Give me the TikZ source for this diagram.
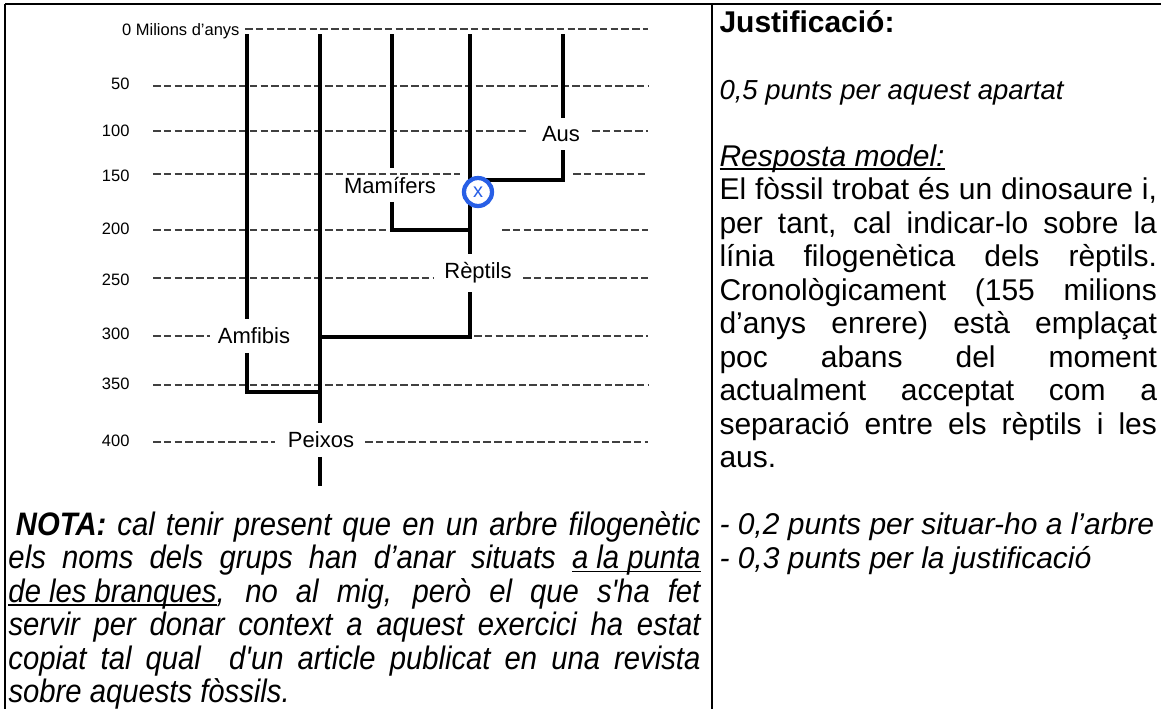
\documentclass[tikz,border=0pt]{standalone}
\usepackage{fontspec}
\setmainfont{Liberation Sans}[Ligatures=TeXOff]
\newfontfamily\narrowfont{Liberation Sans}[FakeStretch=0.9,Ligatures=TeXOff]
\usepackage{xcolor}
\definecolor{fossilblue}{RGB}{40,95,230}
\newcommand\ulsimple[1]{\setbox0\hbox{#1}\rlap{\rule[-1.5pt]{\wd0}{0.6pt}}\box0}
\tikzset{
	frame/.style={line width=0.9pt},
	branch/.style={line width=1.7pt},
	timeline/.style={draw=black!75, line width=0.65pt, dash pattern=on 3pt off 1.3pt},
	group/.style={font=\fontsize{8.8}{10}\selectfont, inner xsep=1pt, inner ysep=3.3pt},
	agelabel/.style={font=\fontsize{6.6}{8}\selectfont, anchor=east, inner sep=0pt},
	fossil/.style={circle, draw=fossilblue, line width=1.7pt, fill=white, text=fossilblue,
			inner sep=0pt, minimum size=11.2pt, font=\fontsize{8}{8}\selectfont},
	textblock/.style={anchor=base west, align=justify, inner sep=0pt}
}

\begin{document}
\begin{tikzpicture}[x=0.4pt,y=-0.4pt]
        \useasboundingbox (0,0) rectangle (1161,709);
        \coordinate (top_left) at (5,4);
        \coordinate (top_right) at (1161,4);
        \coordinate (bottom_left) at (5,709);
        \coordinate (top_mid) at (712,4);
        \coordinate (bottom_mid) at (712,709);
        \draw[frame] (top_left) -- (top_right);
        \draw[frame] (top_left) -- (bottom_left);
        \draw[frame] (top_mid) -- (bottom_mid);
        \foreach \y/\xa/\xb in {29/245/648, 86/153/648, 131/153/527, 131/592/648,
                174/153/460, 174/573/648, 230/153/392, 230/502/648, 278/153/433,
                278/523/648, 336/153/210, 336/474/648, 385/153/648, 442/153/275,
                442/365/648}
            \draw[timeline] (\xa,\y) -- (\xb,\y);
        \node[agelabel] (age_0) at (240,31) {0 Milions d’anys};
        \foreach \age/\y in {50/84, 100/131, 150/176, 200/229, 250/280, 300/334, 350/384, 400/441}
            \node[agelabel] (age_\age) at (130,\y) {\age};
        \node[group] (amfibis) at (254,336) {Amfibis};
        \node[group] (peixos) at (321,440) {Peixos};
        \node[group] (reptils) at (478,273) {Rèptils};
        \node[group] (mamifers) at (390,185) {Mamífers};
        \node[group] (aus) at (561,134) {Aus};
        \coordinate (amf_top) at (247,34);
        \coordinate (amf_bend) at (247,392);
        \coordinate (pei_top) at (320,34);
        \coordinate (pei_end) at (320,486);
        \coordinate (mam_top) at (392,34);
        \coordinate (mam_bend) at (392,230);
        \coordinate (rep_top) at (470,34);
        \coordinate (rep_bend) at (470,337);
        \coordinate (aus_top) at (563,34);
        \coordinate (aus_bend) at (563,180);
        \draw[branch] (amf_top) -- (amf_top |- amfibis.north);
        \draw[branch] (amf_top |- amfibis.south) -- (amf_bend) -- (amf_bend -| pei_top);
        \draw[branch] (pei_top) -- (pei_top |- peixos.north);
        \draw[branch] (pei_top |- peixos.south) -- (pei_end);
        \draw[branch] (rep_bend -| pei_top) -- (rep_bend) -- (rep_top |- reptils.south);
        \draw[branch] (rep_top) -- (rep_top |- reptils.north);
        \draw[branch] (mam_top) -- (mam_top |- mamifers.north);
        \draw[branch] (mam_top |- mamifers.south) -- (mam_bend) -- (mam_bend -| rep_top);
        \draw[branch] (aus_top) -- (aus_top |- aus.north);
        \draw[branch] (aus_top |- aus.south) -- (aus_bend) -- (aus_bend -| rep_top);
        \node[fossil] (fossil) at (478,192) {x};
        \node[textblock, text width=175pt, font=\fontsize{12}{13.4}\selectfont] (answer) at (719,32) {%
            \hyphenpenalty=10000 \exhyphenpenalty=10000 \tolerance=10000
            \textbf{Justificació:}\par
            \mbox{}\par
            {\fontsize{11}{13.4}\selectfont\itshape 0,5 punts per aquest apartat}\par
            \mbox{}\par
            \textit{\ulsimple{Resposta model:}}\par
            El fòssil trobat és un dinosaure i,\linebreak
            per tant, cal indicar-lo sobre la\linebreak
            línia filogenètica dels rèptils.\linebreak
            Cronològicament (155 milions\linebreak
            d’anys enrere) està emplaçat\linebreak
            poc abans del moment\linebreak
            actualment acceptat com a\linebreak
            separació entre els rèptils i les\linebreak
            aus.\par
            \mbox{}\par
            \textit{- 0,2 punts per situar-ho a l’arbre}\par
            \textit{- 0,3 punts per la justificació}};
        \node[textblock, text width=276.8pt, font=\narrowfont\itshape\fontsize{13}{13.4}\selectfont] (nota) at (8,535) {%
            \hyphenpenalty=10000 \exhyphenpenalty=10000 \tolerance=10000
            \hspace*{3pt}\textbf{NOTA:} cal tenir present que en un arbre filogenètic\linebreak
            els noms dels grups han d’anar situats \ulsimple{a la punta}\linebreak
            \ulsimple{de les branques}, no al mig, però el que s'ha fet\linebreak
            servir per donar context a aquest exercici ha estat\linebreak
            copiat tal qual\ \ d'un article publicat en una revista\linebreak
            sobre aquests fòssils.};
    \end{tikzpicture}
\end{document}
